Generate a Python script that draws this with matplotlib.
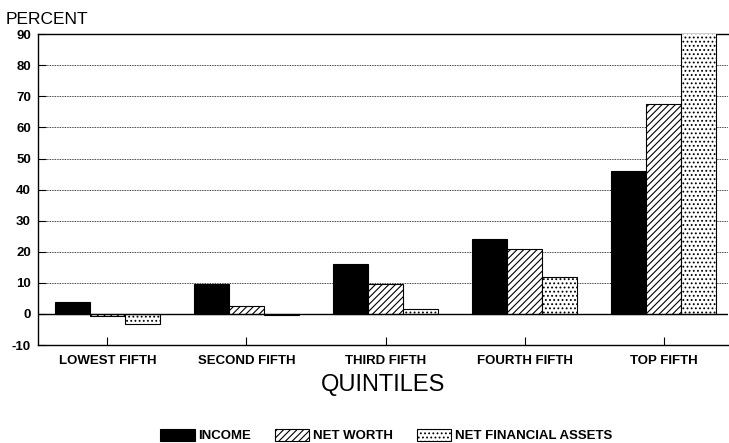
import matplotlib.pyplot as plt
import numpy as np

plt.rcParams["font.family"] = ["Liberation Sans", "DejaVu Sans"]
plt.rcParams["hatch.linewidth"] = 0.8

quintiles = ["LOWEST FIFTH", "SECOND FIFTH", "THIRD FIFTH", "FOURTH FIFTH", "TOP FIFTH"]
income = [3.8, 9.8, 16.0, 24.2, 46.0]
net_worth = [-0.8, 2.5, 9.8, 21.0, 67.5]
net_fin_assets = [-3.3, -0.3, 1.5, 11.8, 91.0]
yticks = list(range(-10, 100, 10))

fig = plt.figure(figsize=(7.29, 4.43), dpi=100)
ax = fig.add_axes([0.052, 0.221, 0.946, 0.702])

x = np.arange(len(quintiles))
w = 0.25
ax.bar(x - w, income, w, color="black", edgecolor="black", linewidth=0.8,
       label="INCOME", zorder=3)
ax.bar(x, net_worth, w, color="white", edgecolor="black", hatch="/////",
       linewidth=0.8, label="NET WORTH", zorder=3)
ax.bar(x + w, net_fin_assets, w, color="white", edgecolor="black", hatch="....",
       linewidth=0.8, label="NET FINANCIAL ASSETS", zorder=3)

ax.set_ylim(-10, 90)
ax.set_xlim(-0.5, 4.46)
ax.set_yticks(yticks)
ax.set_yticklabels([str(v) for v in yticks], fontsize=9.5, fontweight="bold")
for v in yticks[2:-1]:
    ax.axhline(v, color="black", linestyle=(0, (1, 1)), linewidth=0.6, zorder=1)
ax.axhline(0, color="black", linewidth=1.0, zorder=4)

ax.set_xticks(x)
ax.set_xticklabels(quintiles, fontsize=9.5, fontweight="bold")
ax.tick_params(axis="x", direction="in", length=6, pad=7)
ax.tick_params(axis="y", direction="in", length=6, pad=5)
for s in ax.spines.values():
    s.set_linewidth(1.0)
ax.spines["right"].set_visible(False)

fig.text(0.008, 0.94, "PERCENT", fontsize=12.5, ha="left", va="bottom")
ax.set_xlabel("QUINTILES", fontsize=17, labelpad=5)

fig.legend(loc="lower center", bbox_to_anchor=(0.53, -0.025), ncol=3, frameon=False,
           handlelength=2.6, handleheight=1.0, columnspacing=1.8,
           handletextpad=0.3, prop={"weight": "bold", "size": 9.5})

fig.savefig("out.png", dpi=100)
